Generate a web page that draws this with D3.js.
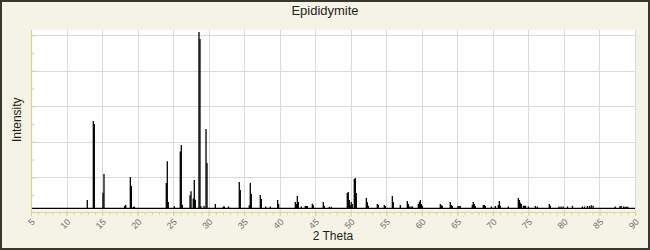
<!DOCTYPE html>
<html>
<head>
<meta charset="utf-8">
<script src="https://cdn.jsdelivr.net/npm/d3@7"></script>
<style>
  body { margin: 0; background: #fff; }
  svg { display: block; font-family: "Liberation Sans", Arial, sans-serif; }
</style>
</head>
<body>
<svg id="chart" width="650" height="250"></svg>
<script>
// Epididymite powder pattern, peaks (2 theta, intensity)
const chartTitle = "Epididymite";
const xLabel = "2 Theta";
const yLabel = "Intensity";
const background = 2.5;

const peakTheta = [
  12.92, 13.77, 13.91, 15.13, 15.27, 18.19, 18.33, 18.98, 19.12, 19.41, 19.55,
  24.04, 24.18, 24.32, 25.17, 26.01, 26.15, 26.29, 27.38, 27.52, 27.84, 27.98, 28.12,
  28.64, 28.78, 28.92, 29.35, 29.63, 29.77, 30.94, 32.07, 32.21, 32.80,
  34.31, 34.45, 35.72, 35.86, 36.00, 37.27, 37.41, 38.03, 38.68, 39.71, 39.85,
  42.20, 42.34, 42.48, 42.62, 43.04, 43.60, 43.74, 43.88, 44.59, 44.73, 46.13, 46.27,
  46.98, 47.26, 49.51, 49.65, 49.79, 49.93, 50.07, 50.21, 50.50, 50.64, 50.78,
  52.19, 52.33, 52.47, 53.74, 53.88, 54.72, 54.86, 55.85, 55.99, 56.97,
  57.96, 58.10, 58.30, 58.50, 58.70, 59.51, 59.65, 59.79, 59.93, 60.07,
  62.60, 62.74, 62.88, 64.00, 64.15, 64.29, 65.10, 65.25, 65.40,
  67.10, 67.24, 67.38, 67.52, 68.65, 68.80, 68.94, 69.78, 70.35, 70.76, 70.90, 71.04,
  72.17, 73.58, 73.72, 73.86, 74.00, 74.30, 74.45, 74.60, 75.00, 75.97, 76.25,
  77.94, 78.08, 79.30, 79.60, 79.90, 80.50, 81.20, 82.60, 82.90, 83.30, 83.60, 83.85, 84.10,
  87.20, 87.90, 88.05, 88.40, 88.60, 88.80, 89.00
];
const peakIntensity = [
  7.2, 51.7, 50.0, 11.3, 21.9, 3.8, 4.5, 20.2, 15.1, 3.4, 3.4,
  16.8, 29.0, 6.1, 3.7, 34.6, 38.2, 4.6, 9.9, 12.1, 8.0, 18.5, 7.4,
  101.9, 97.9, 3.7, 4.0, 47.2, 28.0, 5.0, 3.6, 3.6, 3.6,
  17.4, 12.8, 4.2, 16.8, 10.6, 10.0, 7.8, 3.6, 3.6, 7.2, 5.0,
  6.1, 5.0, 9.5, 6.1, 3.5, 3.8, 3.8, 3.8, 5.1, 4.3, 6.1, 4.0,
  3.4, 3.4, 11.2, 11.7, 7.2, 4.4, 6.1, 5.0, 19.0, 19.6, 11.2,
  8.3, 6.1, 4.0, 5.0, 4.4, 4.4, 3.8, 9.5, 6.1, 4.4,
  6.7, 5.0, 3.5, 3.5, 3.5, 5.0, 6.1, 7.2, 5.0, 4.0,
  5.0, 4.3, 4.0, 6.1, 4.4, 3.8, 3.8, 3.8, 3.8,
  4.4, 6.1, 5.0, 3.8, 4.4, 4.4, 3.8, 3.6, 3.8, 4.4, 6.7, 4.0,
  3.6, 8.3, 7.2, 5.6, 5.0, 4.0, 4.0, 4.0, 3.6, 3.8, 3.6,
  5.0, 4.0, 3.6, 3.6, 3.6, 3.6, 4.0, 3.6, 3.6, 3.8, 3.8, 4.2, 4.0,
  3.6, 3.8, 3.8, 3.6, 3.4, 3.4, 3.4
];
const thetaTicks = d3.range(5, 91, 5);
const intensityTicks = [20, 40, 60, 80, 100];

const peaks = peakTheta.map((t, i) => ({ theta: t, value: peakIntensity[i] }));

const WIDTH = 650;
const HEIGHT = 250;
const PLOT = { left: 31, right: 635, top: 30, bottom: 209.5 };

const svg = d3.select("#chart");

// frame
svg.append("rect")
  .attr("x", 1).attr("y", 1)
  .attr("width", WIDTH - 2).attr("height", HEIGHT - 2)
  .attr("fill", "#f5f3e6")
  .attr("stroke", "#37362f")
  .attr("stroke-width", 2);

const x = d3.scaleLinear().domain([5, 90]).range([PLOT.left, PLOT.right]);
const y = d3.scaleLinear().domain([0, 100]).range([212.8, 35.3]);

svg.append("rect")
  .attr("x", PLOT.left).attr("y", PLOT.top)
  .attr("width", PLOT.right - PLOT.left)
  .attr("height", PLOT.bottom - PLOT.top)
  .attr("fill", "#fff");

svg.append("clipPath").attr("id", "plot-clip")
  .append("rect")
  .attr("x", PLOT.left).attr("y", PLOT.top)
  .attr("width", PLOT.right - PLOT.left + 1)
  .attr("height", PLOT.bottom - PLOT.top);

// grid
const grid = svg.append("g").attr("stroke", "#dadada").attr("stroke-width", 1);
grid.selectAll(".vg")
  .data(thetaTicks)
  .join("line")
    .attr("class", "vg")
    .attr("x1", d => Math.round(x(d)) + 0.5)
    .attr("x2", d => Math.round(x(d)) + 0.5)
    .attr("y1", PLOT.top)
    .attr("y2", PLOT.bottom);
grid.selectAll(".hg")
  .data(intensityTicks)
  .join("line")
    .attr("class", "hg")
    .attr("x1", PLOT.left)
    .attr("x2", PLOT.right)
    .attr("y1", d => Math.round(y(d)) + 0.5)
    .attr("y2", d => Math.round(y(d)) + 0.5);

// spectrum
const spec = svg.append("g").attr("clip-path", "url(#plot-clip)");
spec.append("line")
  .attr("x1", x(5)).attr("x2", x(90))
  .attr("y1", y(background)).attr("y2", y(background))
  .attr("stroke", "#000").attr("stroke-width", 1.4);
spec.selectAll(".peak")
  .data(peaks)
  .join("line")
    .attr("class", "peak")
    .attr("x1", d => x(d.theta))
    .attr("x2", d => x(d.theta))
    .attr("y1", y(background))
    .attr("y2", d => y(d.value))
    .attr("stroke", "#000")
    .attr("stroke-width", 1.3);

// axes (pale, labels only on x)
const axisColor = "#dcd394";

const yMinor = svg.append("g")
  .attr("transform", `translate(${PLOT.left + 0.5},0)`)
  .call(d3.axisRight(y).tickValues(d3.range(10, 101, 20)).tickSize(3).tickFormat(""));
const yMajor = svg.append("g")
  .attr("transform", `translate(${PLOT.left + 0.5},0)`)
  .call(d3.axisRight(y).tickValues(intensityTicks).tickSize(5).tickFormat(""));
[yMinor, yMajor].forEach(g => {
  g.select(".domain").remove();
  g.selectAll("line").attr("stroke", axisColor);
});
svg.append("line")
  .attr("x1", PLOT.left + 0.5).attr("x2", PLOT.left + 0.5)
  .attr("y1", PLOT.top).attr("y2", 212)
  .attr("stroke", axisColor).attr("stroke-width", 1.3);

const xMinor = svg.append("g")
  .attr("transform", "translate(0,212)")
  .call(d3.axisBottom(x).tickValues(d3.range(5, 91, 1)).tickSize(3).tickFormat(""));
const xMajor = svg.append("g")
  .attr("transform", "translate(0,210)")
  .call(d3.axisBottom(x).tickValues(thetaTicks).tickSize(6).tickFormat(""));
[xMinor, xMajor].forEach(g => {
  g.select(".domain").remove();
  g.selectAll("line").attr("stroke", axisColor);
});
svg.append("line")
  .attr("x1", PLOT.left).attr("x2", PLOT.right)
  .attr("y1", 212.5).attr("y2", 212.5)
  .attr("stroke", axisColor).attr("stroke-width", 1);

svg.append("g")
  .selectAll("text")
  .data(thetaTicks)
  .join("text")
    .attr("transform", d => `translate(${x(d)},${218}) rotate(-45)`)
    .attr("text-anchor", "end")
    .attr("dy", "0.7em")
    .attr("font-size", 9)
    .attr("fill", "#6f6f6a")
    .text(d => d);

// titles
svg.append("text")
  .attr("x", 325).attr("y", 15)
  .attr("text-anchor", "middle")
  .attr("font-size", 13)
  .attr("fill", "#1e1e1e")
  .text(chartTitle);

svg.append("text")
  .attr("x", (PLOT.left + PLOT.right) / 2).attr("y", 240)
  .attr("text-anchor", "middle")
  .attr("font-size", 12)
  .attr("fill", "#1e1e1e")
  .text(xLabel);

svg.append("text")
  .attr("transform", `translate(21,${(PLOT.top + PLOT.bottom) / 2}) rotate(-90)`)
  .attr("text-anchor", "middle")
  .attr("font-size", 12)
  .attr("fill", "#1e1e1e")
  .text(yLabel);
</script>
</body>
</html>
